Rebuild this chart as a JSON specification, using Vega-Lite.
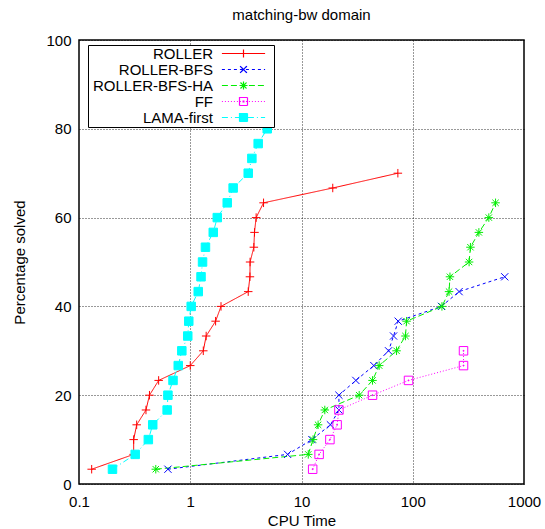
{
  "$schema": "https://vega.github.io/schema/vega-lite/v6.json",
  "width": 445,
  "height": 444,
  "autosize": {"type": "none"},
  "padding": {"left": 79, "top": 40, "right": 21, "bottom": 45},
  "background": "white",
  "title": {"text": "matching-bw domain", "fontSize": 15, "fontWeight": "normal", "font": "Liberation Sans", "color": "#000", "offset": 10},
  "datasets": {
    "runs": [
      {"series": "ROLLER", "time": 0.13, "pct": 3.33},
      {"series": "ROLLER", "time": 0.31, "pct": 6.67},
      {"series": "ROLLER", "time": 0.31, "pct": 10},
      {"series": "ROLLER", "time": 0.33, "pct": 13.33},
      {"series": "ROLLER", "time": 0.40, "pct": 16.67},
      {"series": "ROLLER", "time": 0.43, "pct": 20},
      {"series": "ROLLER", "time": 0.52, "pct": 23.33},
      {"series": "ROLLER", "time": 1.0, "pct": 26.67},
      {"series": "ROLLER", "time": 1.31, "pct": 30},
      {"series": "ROLLER", "time": 1.39, "pct": 33.33},
      {"series": "ROLLER", "time": 1.69, "pct": 36.67},
      {"series": "ROLLER", "time": 1.89, "pct": 40},
      {"series": "ROLLER", "time": 3.32, "pct": 43.33},
      {"series": "ROLLER", "time": 3.44, "pct": 46.67},
      {"series": "ROLLER", "time": 3.45, "pct": 50},
      {"series": "ROLLER", "time": 3.73, "pct": 53.33},
      {"series": "ROLLER", "time": 3.78, "pct": 56.67},
      {"series": "ROLLER", "time": 3.91, "pct": 60},
      {"series": "ROLLER", "time": 4.56, "pct": 63.33},
      {"series": "ROLLER", "time": 19.1, "pct": 66.67},
      {"series": "ROLLER", "time": 73.5, "pct": 70},
      {"series": "ROLLER-BFS", "time": 0.63, "pct": 3.33},
      {"series": "ROLLER-BFS", "time": 7.5, "pct": 6.67},
      {"series": "ROLLER-BFS", "time": 12.4, "pct": 10},
      {"series": "ROLLER-BFS", "time": 18.2, "pct": 13.33},
      {"series": "ROLLER-BFS", "time": 21.7, "pct": 16.67},
      {"series": "ROLLER-BFS", "time": 21.7, "pct": 20},
      {"series": "ROLLER-BFS", "time": 30.8, "pct": 23.33},
      {"series": "ROLLER-BFS", "time": 44.7, "pct": 26.67},
      {"series": "ROLLER-BFS", "time": 60.6, "pct": 30},
      {"series": "ROLLER-BFS", "time": 67.2, "pct": 33.33},
      {"series": "ROLLER-BFS", "time": 74, "pct": 36.67},
      {"series": "ROLLER-BFS", "time": 181, "pct": 40},
      {"series": "ROLLER-BFS", "time": 261, "pct": 43.33},
      {"series": "ROLLER-BFS", "time": 671, "pct": 46.67},
      {"series": "ROLLER-BFS-HA", "time": 0.49, "pct": 3.33},
      {"series": "ROLLER-BFS-HA", "time": 11.5, "pct": 6.67},
      {"series": "ROLLER-BFS-HA", "time": 12.7, "pct": 10},
      {"series": "ROLLER-BFS-HA", "time": 14.1, "pct": 13.33},
      {"series": "ROLLER-BFS-HA", "time": 16.2, "pct": 16.67},
      {"series": "ROLLER-BFS-HA", "time": 33.0, "pct": 20},
      {"series": "ROLLER-BFS-HA", "time": 43.5, "pct": 23.33},
      {"series": "ROLLER-BFS-HA", "time": 49.9, "pct": 26.67},
      {"series": "ROLLER-BFS-HA", "time": 71.5, "pct": 30},
      {"series": "ROLLER-BFS-HA", "time": 86, "pct": 33.33},
      {"series": "ROLLER-BFS-HA", "time": 88, "pct": 36.67},
      {"series": "ROLLER-BFS-HA", "time": 183, "pct": 40},
      {"series": "ROLLER-BFS-HA", "time": 212, "pct": 43.33},
      {"series": "ROLLER-BFS-HA", "time": 216, "pct": 46.67},
      {"series": "ROLLER-BFS-HA", "time": 321, "pct": 50},
      {"series": "ROLLER-BFS-HA", "time": 330, "pct": 53.33},
      {"series": "ROLLER-BFS-HA", "time": 393, "pct": 56.67},
      {"series": "ROLLER-BFS-HA", "time": 483, "pct": 60},
      {"series": "ROLLER-BFS-HA", "time": 555, "pct": 63.33},
      {"series": "FF", "time": 12.6, "pct": 3.33},
      {"series": "FF", "time": 14.4, "pct": 6.67},
      {"series": "FF", "time": 18.0, "pct": 10},
      {"series": "FF", "time": 20.9, "pct": 13.33},
      {"series": "FF", "time": 21.7, "pct": 16.67},
      {"series": "FF", "time": 43.5, "pct": 20},
      {"series": "FF", "time": 91.6, "pct": 23.33},
      {"series": "FF", "time": 286, "pct": 26.67},
      {"series": "FF", "time": 286, "pct": 30},
      {"series": "LAMA-first", "time": 0.20, "pct": 3.33},
      {"series": "LAMA-first", "time": 0.32, "pct": 6.67},
      {"series": "LAMA-first", "time": 0.42, "pct": 10},
      {"series": "LAMA-first", "time": 0.46, "pct": 13.33},
      {"series": "LAMA-first", "time": 0.62, "pct": 16.67},
      {"series": "LAMA-first", "time": 0.63, "pct": 20},
      {"series": "LAMA-first", "time": 0.70, "pct": 23.33},
      {"series": "LAMA-first", "time": 0.78, "pct": 26.67},
      {"series": "LAMA-first", "time": 0.84, "pct": 30},
      {"series": "LAMA-first", "time": 0.95, "pct": 33.33},
      {"series": "LAMA-first", "time": 0.97, "pct": 36.67},
      {"series": "LAMA-first", "time": 1.02, "pct": 40},
      {"series": "LAMA-first", "time": 1.18, "pct": 43.33},
      {"series": "LAMA-first", "time": 1.25, "pct": 46.67},
      {"series": "LAMA-first", "time": 1.29, "pct": 50},
      {"series": "LAMA-first", "time": 1.37, "pct": 53.33},
      {"series": "LAMA-first", "time": 1.61, "pct": 56.67},
      {"series": "LAMA-first", "time": 1.75, "pct": 60},
      {"series": "LAMA-first", "time": 2.15, "pct": 63.33},
      {"series": "LAMA-first", "time": 2.43, "pct": 66.67},
      {"series": "LAMA-first", "time": 3.32, "pct": 70},
      {"series": "LAMA-first", "time": 3.58, "pct": 73.33},
      {"series": "LAMA-first", "time": 4.08, "pct": 76.67},
      {"series": "LAMA-first", "time": 4.92, "pct": 80},
      {"series": "LAMA-first", "time": 5.2, "pct": 83.33}
    ]
  },
  "data": {"name": "runs"},
  "layer": [
    {
      "encoding": {
        "x": {
          "field": "time", "type": "quantitative",
          "scale": {"type": "log", "domain": [0.1, 1000]},
          "axis": {
            "orient": "bottom",
            "values": [0.1,0.2,0.3,0.4,0.5,0.6,0.7,0.8,0.9,1,2,3,4,5,6,7,8,9,10,20,30,40,50,60,70,80,90,100,200,300,400,500,600,700,800,900,1000],
            "format": "~g",
            "labelExpr": "indexof([0.1,1,10,100,1000], datum.value) >= 0 ? datum.label : ''",
            "labelOverlap": false,
            "labelFlush": false,
            "labelPadding": 10,
            "tickSize": 0,
            "grid": true,
            "gridOpacity": {"condition": {"test": "indexof([1,10,100], datum.value) >= 0", "value": 0.8}, "value": 0},
            "domain": false,
            "title": "CPU Time",
            "titlePadding": 4,
            "encode": {
              "ticks": {"update": {"y2": {"signal": "indexof([0.1,1,10,100,1000], datum.value) >= 0 ? -8 : -4"}}}
            }
          }
        },
        "y": {
          "field": "pct", "type": "quantitative",
          "scale": {"domain": [0, 100]},
          "axis": {
            "orient": "left",
            "values": [0, 20, 40, 60, 80, 100],
            "labelPadding": 8,
            "tickSize": 0,
            "grid": true,
            "gridOpacity": 0.8,
            "domain": false,
            "title": "Percentage solved",
            "titlePadding": 18,
            "encode": {"ticks": {"update": {"x2": {"value": 8}}}}
          }
        },
        "color": {
          "field": "series", "type": "nominal",
          "scale": {
            "domain": ["ROLLER", "ROLLER-BFS", "ROLLER-BFS-HA", "FF", "LAMA-first"],
            "range": ["#ff0000", "#0000ff", "#00ee00", "#ff00ff", "#00ffff"]
          },
          "legend": {
            "orient": "none",
            "legendX": 9,
            "legendY": 5,
            "title": null,
            "padding": 1,
            "rowPadding": -2.7,
            "strokeColor": "#000",
            "fillColor": "#fff",
            "labelFont": "Liberation Sans",
            "labelFontSize": 15,
            "labelColor": "#000",
            "labelLimit": 300,
            "symbolSize": 64,
            "symbolStrokeWidth": 1,
            "symbolOpacity": 1,
            "encode": {
              "labels": {"update": {"x": {"value": 124}, "align": {"value": "right"}}},
              "symbols": {
                "update": {
                  "x": {"value": 154.5},
                  "size": {"value": 64},
                  "opacity": {"value": 1},
                  "strokeOpacity": {"value": 1},
                  "strokeWidth": {"value": 1.2},
                  "strokeDash": {"value": [1, 0]},
                  "fill": {"signal": "datum.value === 'LAMA-first' ? '#00ffff' : 'transparent'"},
                  "shape": {"signal": "datum.value === 'ROLLER' ? 'M-5.4,0H5.4M0,-1V1M6.75,0' : datum.value === 'ROLLER-BFS' ? 'M-5.4,0H-4.65M-3.9,0H-3.15M-2.4,0H-1.65M-0.9,0H-0.15M0.6,0H1.35M2.1,0H2.85M3.6,0H4.35M5.1,0H5.4M-0.85,-0.85L0.85,0.85M-0.85,0.85L0.85,-0.85M6.75,0' : datum.value === 'ROLLER-BFS-HA' ? 'M-5.4,0H-3.9M-3.15,0H-1.65M-0.9,0H0.6M1.35,0H2.85M3.6,0H5.1M-1,0H1M0,-1V1M-0.75,-0.75L0.75,0.75M-0.75,0.75L0.75,-0.75M6.75,0' : datum.value === 'FF' ? 'M-5.4,0H-5.15M-4.65,0H-4.4M-3.9,0H-3.65M-3.15,0H-2.9M-2.4,0H-2.15M-1.65,0H-1.4M-0.9,0H-0.65M0.6,0H0.85M1.35,0H1.6M2.1,0H2.35M2.85,0H3.1M3.6,0H3.85M4.35,0H4.6M5.1,0H5.35M-1,-1H1V1H-1ZM-0.1,-0.1H0.1V0.1H-0.1ZM6.75,0' : 'M-5.4,0H-3.9M-3.15,0H-2.9M-2.15,0H-0.65M0.1,0H0.35M1.1,0H2.6M3.35,0H3.6M4.35,0H5.4M-1,-1H1V1H-1ZM6.75,0'"}
                }
              }
            }
          }
        }
      },
      "layer": [
        {
          "mark": {"type": "line", "strokeWidth": 1},
          "encoding": {
            "strokeDash": {
              "condition": [
                {"test": "datum.series === 'ROLLER-BFS'", "value": [3, 3]},
                {"test": "datum.series === 'ROLLER-BFS-HA'", "value": [6, 3]},
                {"test": "datum.series === 'FF'", "value": [1, 2]},
                {"test": "datum.series === 'LAMA-first'", "value": [6, 3, 1, 3]}
              ],
              "value": [1, 0]
            },
            "order": {"field": "pct", "type": "quantitative"}
          }
        },
        {
          "mark": {"type": "point", "filled": false, "size": 72, "strokeWidth": 1, "opacity": 1},
          "encoding": {
            "shape": {
              "condition": [
                {"test": "datum.series === 'ROLLER'", "value": "M-1,0H1M0,-1V1"},
                {"test": "datum.series === 'ROLLER-BFS'", "value": "M-0.85,-0.85L0.85,0.85M-0.85,0.85L0.85,-0.85"},
                {"test": "datum.series === 'ROLLER-BFS-HA'", "value": "M-1,0H1M0,-1V1M-0.75,-0.75L0.75,0.75M-0.75,0.75L0.75,-0.75"},
                {"test": "datum.series === 'FF'", "value": "M-1,-1H1V1H-1ZM-0.1,-0.1H0.1V0.1H-0.1Z"}
              ],
              "value": "M-1,-1H1V1H-1Z"
            },
            "fill": {
              "condition": {"test": "datum.series === 'LAMA-first'", "value": "#00ffff"},
              "value": "transparent"
            }
          }
        }
      ]
    },
    {
      "mark": {"type": "point", "opacity": 0},
      "encoding": {
        "x": {
          "field": "time", "type": "quantitative",
          "scale": {"type": "log", "domain": [0.1, 1000]},
          "axis": {
            "orient": "top",
            "values": [0.1,0.2,0.3,0.4,0.5,0.6,0.7,0.8,0.9,1,2,3,4,5,6,7,8,9,10,20,30,40,50,60,70,80,90,100,200,300,400,500,600,700,800,900,1000],
            "labels": false,
            "grid": false,
            "domain": false,
            "tickSize": 0,
            "title": null,
            "encode": {"ticks": {"update": {"y2": {"signal": "indexof([0.1,1,10,100,1000], datum.value) >= 0 ? 8 : 4"}}}}
          }
        },
        "y": {
          "field": "pct", "type": "quantitative",
          "scale": {"domain": [0, 100]},
          "axis": {
            "orient": "right",
            "values": [0, 20, 40, 60, 80, 100],
            "labels": false,
            "grid": false,
            "domain": false,
            "tickSize": 0,
            "title": null,
            "encode": {"ticks": {"update": {"x2": {"value": -8}}}}
          }
        }
      }
    }
  ],
  "resolve": {"scale": {"x": "independent", "y": "independent"}},
  "config": {
    "font": "Liberation Sans",
    "view": {"stroke": "#000", "strokeWidth": 1.5},
    "axis": {
      "labelFont": "Liberation Sans",
      "labelFontSize": 15,
      "labelColor": "#000",
      "titleFont": "Liberation Sans",
      "titleFontSize": 15,
      "titleFontWeight": "normal",
      "titleColor": "#000",
      "tickColor": "#000",
      "tickWidth": 1,
      "gridColor": "#000",
      "gridDash": [1, 2],
      "gridWidth": 1
    }
  }
}
